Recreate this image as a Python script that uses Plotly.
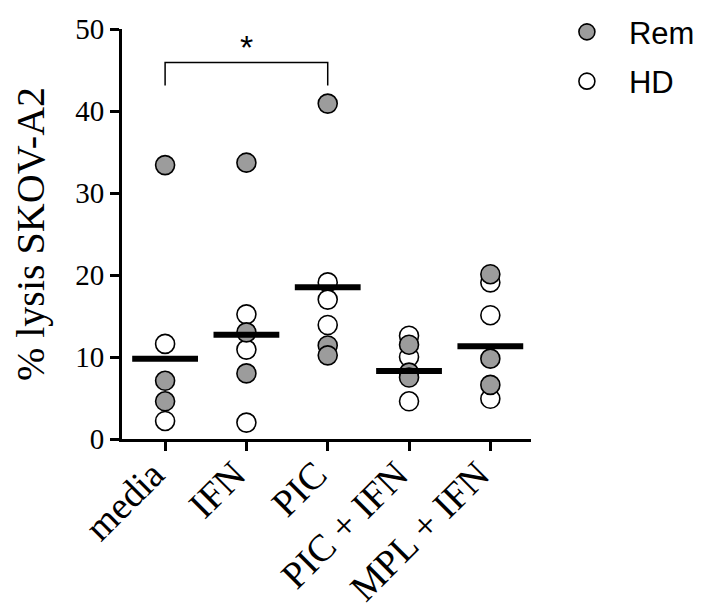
import plotly.graph_objects as go

categories = ["media", "IFN", "PIC", "PIC + IFN", "MPL + IFN"]

# Rem (grey) values per category
rem_cat = ["media", "media", "media", "IFN", "IFN", "IFN", "PIC", "PIC", "PIC",
           "PIC + IFN", "PIC + IFN", "PIC + IFN", "MPL + IFN", "MPL + IFN", "MPL + IFN"]
rem_val = [33.4, 7.1, 4.6, 33.7, 13.0, 8.0, 40.9, 11.4, 10.2,
           11.5, 8.1, 7.5, 20.1, 9.8, 6.6]

# HD (white) values per category
hd_cat = ["media", "media", "IFN", "IFN", "IFN", "PIC", "PIC", "PIC",
          "PIC + IFN", "PIC + IFN", "PIC + IFN", "MPL + IFN", "MPL + IFN", "MPL + IFN"]
hd_val = [11.6, 2.2, 15.2, 10.9, 2.0, 19.1, 17.0, 13.9,
          12.6, 10.0, 4.6, 19.1, 15.1, 4.9]

# group center lines
center_val = [9.8, 12.7, 18.5, 8.3, 11.3]

# significance bracket
bracket_x = ["media", "media", "PIC", "PIC"]
bracket_y = [43.1, 45.9, 45.9, 43.1]
star_text = "*"

y_ticks = [0, 10, 20, 30, 40, 50]

fig = go.Figure()

fig.add_trace(go.Scatter(
    x=hd_cat, y=hd_val, mode="markers", name="HD", legendgroup="hd", legendrank=2,
    marker=dict(size=19, color="white", line=dict(color="black", width=1.6)),
    cliponaxis=False,
))
fig.add_trace(go.Scatter(
    x=rem_cat, y=rem_val, mode="markers", name="Rem", legendgroup="rem", legendrank=1,
    marker=dict(size=19, color="#9c9c9c", line=dict(color="black", width=1.6)),
    cliponaxis=False,
))
fig.add_trace(go.Scatter(
    x=categories, y=center_val, mode="markers", showlegend=False,
    marker=dict(symbol="line-ew", size=47, line=dict(color="black", width=6)),
    cliponaxis=False, hoverinfo="skip",
))
fig.add_trace(go.Scatter(
    x=bracket_x, y=bracket_y, mode="lines", showlegend=False,
    line=dict(color="black", width=1.5), cliponaxis=False, hoverinfo="skip",
))

fig.add_annotation(x=1, y=45.2, text=star_text, showarrow=False,
                   yanchor="bottom", font=dict(family="Liberation Sans", size=34, color="black"))

fig.update_layout(
    width=704, height=615,
    margin=dict(l=114, r=181, t=21, b=184, autoexpand=False),
    plot_bgcolor="white", paper_bgcolor="white",
    legend=dict(x=1.034, y=1.058, xanchor="left", yanchor="top", traceorder="grouped",
                font=dict(family="Liberation Sans", size=31, color="black"),
                itemsizing="trace", tracegroupgap=6, itemwidth=74),
    showlegend=True,
)

fig.update_xaxes(
    type="category", categoryorder="array", categoryarray=categories,
    range=[-0.53, 4.5], showline=True, linecolor="black", linewidth=3,
    ticks="outside", ticklen=9, tickwidth=3, tickcolor="black",
    tickangle=-45, tickfont=dict(family="Liberation Serif", size=38, color="black"),
    ticklabelshift=-12, ticklabelstandoff=-14,
    showgrid=False, zeroline=False, automargin=False,
)
fig.update_yaxes(
    range=[0, 50], tickvals=y_ticks, showline=True, linecolor="black", linewidth=3,
    ticks="outside", ticklen=9, tickwidth=3, tickcolor="black",
    tickfont=dict(family="Liberation Serif", size=29, color="black"),
    title=dict(text="% lysis SKOV-A2", font=dict(family="Liberation Serif", size=40, color="black"), standoff=22),
    showgrid=False, zeroline=False, automargin=False,
)

fig.write_html("out.html")
